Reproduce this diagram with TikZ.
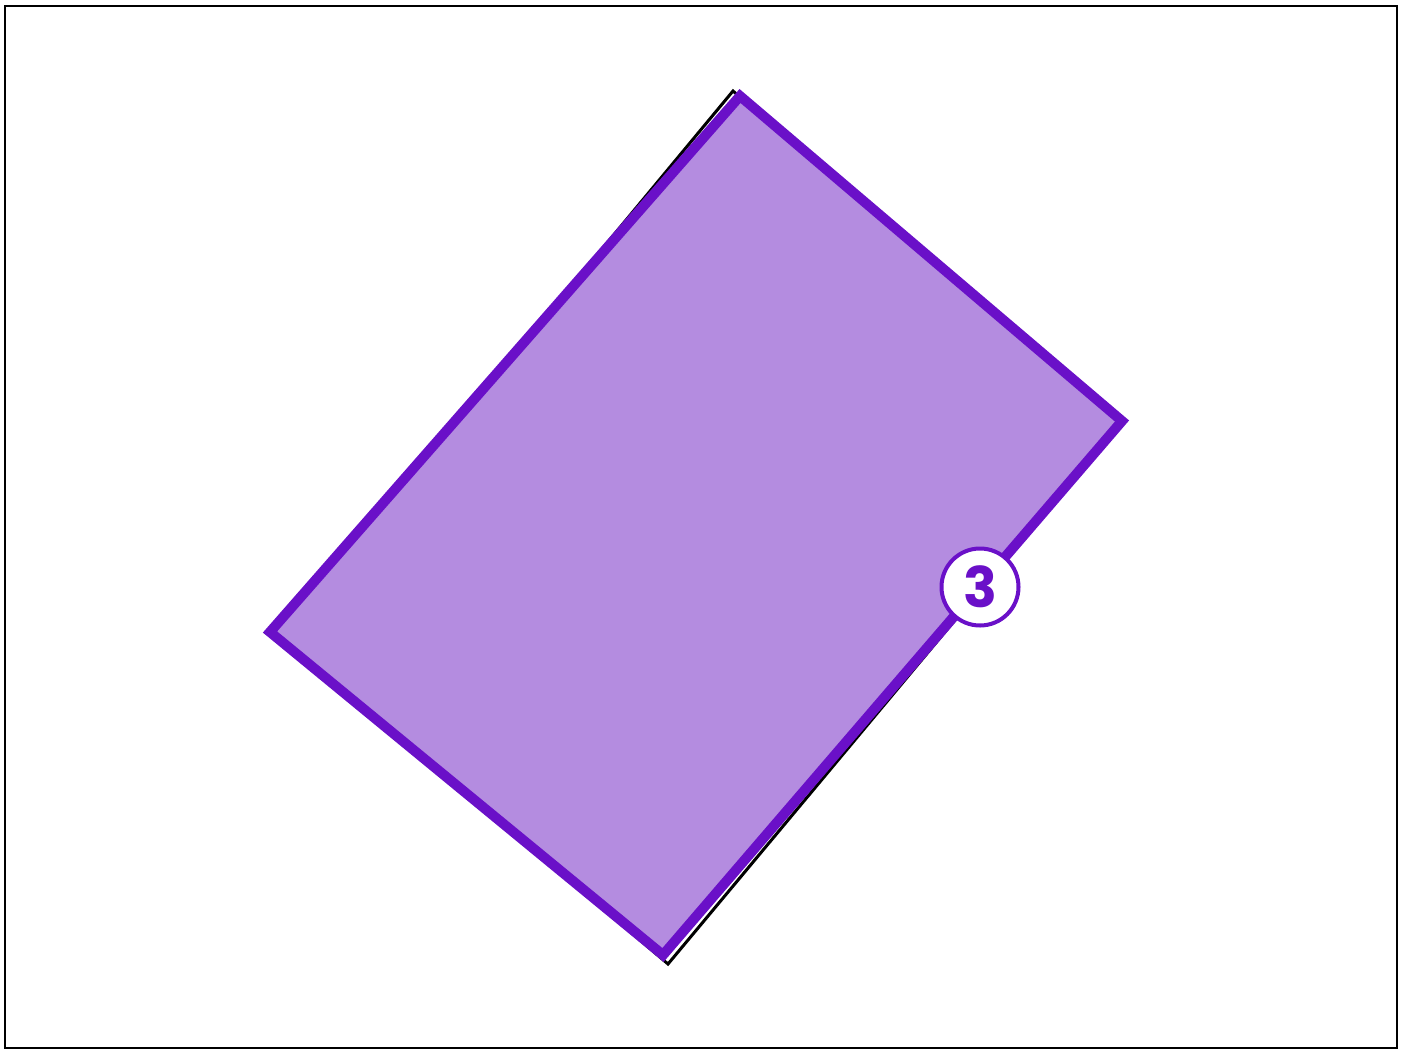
\documentclass[tikz,border=0pt]{standalone}
\usepackage{fontspec}
\newfontfamily\badgefont{Poppins}
\definecolor{pfill}{HTML}{B48CE0}
\definecolor{pline}{HTML}{6A10C8}
\begin{document}
\begin{tikzpicture}[x=1pt,y=-1pt,
  badge/.style={circle,draw=pline,line width=4pt,fill=white,minimum size=77pt,inner sep=0pt,
    text=pline,font=\badgefont\bfseries\fontsize{56}{56}\selectfont}]
\useasboundingbox (0,0) rectangle (1406,1050);
\draw[line width=2.5pt] (5,6) rectangle (1397,1048);
% underlying black outline
\draw[line width=3pt,line join=miter] (733,91) -- (1121,421) -- (668,964) -- (282,635) -- cycle;
% purple shape
\fill[pfill] (740,96) coordinate (t) -- (1122,421) coordinate (r) -- (663,955) coordinate (b) -- (270,632) coordinate (l) -- cycle;
\draw[pline,line width=10pt,line join=miter] (t) -- (r) -- (b) -- (l) -- cycle;
\node[badge] (lbl) at (980,587) {3};
\end{tikzpicture}
\end{document}
